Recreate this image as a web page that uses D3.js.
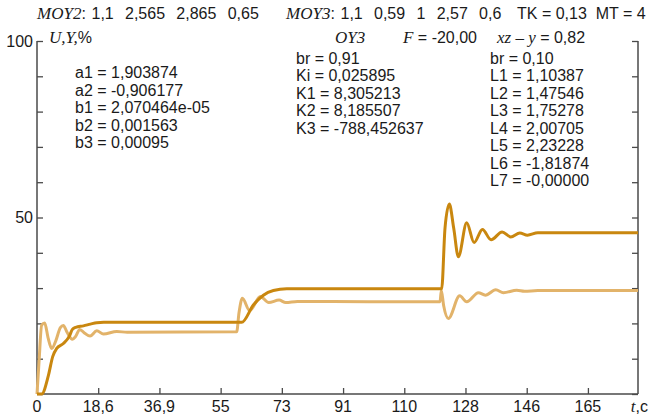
<!DOCTYPE html>
<html>
<head>
<meta charset="utf-8">
<script src="https://cdn.jsdelivr.net/npm/d3@7"></script>
<style>
  html, body { margin: 0; padding: 0; background: #fff; }
  svg { display: block; }
  text { font-family: "Liberation Sans", Arial, sans-serif; font-size: 16px; fill: #1a1a1a; white-space: pre; }
  .it { font-family: "Liberation Serif", "Times New Roman", serif; font-style: italic; font-size: 17px; }
</style>
</head>
<body>
<svg id="chart" width="651" height="415"></svg>
<script>
// ---- data ----
const xTickValues = [0, 18.33, 36.67, 55, 73.33, 91.67, 110, 128.33, 146.67, 165];
const xTickLabels = ["0", "18,6", "36,9", "55", "73", "91", "110", "128", "146", "165"];
const yTickValues = [0, 10, 20, 30, 40, 50, 60, 70, 80, 90, 100];
const yTickLabels = {50: "50", 100: "100"};

// output Y (dark)
const seriesY = [
  [0,0],[1.4,0],[3.4,5.2],[4.7,10.6],[5.9,12.9],[7.9,14.3],[9.7,16.4],[10.6,18.3],[11.6,18.9],
  [13.9,19.3],[16,19.8],[17.9,20.2],[20,20.3],[25,20.3],[61.3,20.3],[64.8,25.2],[67.8,28.0],
  [70.8,29.3],[74.8,29.8],[80,29.8],[121.2,29.8],[122.2,47],[123.5,53.8],[124.8,47],[126.2,38.9],
  [128.7,48.5],[130.9,42.9],[133.4,46.6],[136,43.7],[139.3,45.9],[141.9,44.5],[144.6,45.6],
  [146.9,45.0],[150,45.7],[180,45.7]
];
// control U (light)
const seriesU = [
  [0,0],[0.6,9],[1.4,19.5],[2.3,20.1],[3.3,16],[4.4,12.9],[5.6,15],[7.0,18.8],[7.9,19.4],
  [9.0,17.5],[10.6,15.5],[11.5,16.2],[12.8,18.3],[14.3,17.2],[15.9,16.4],[17.9,17.9],[19.9,17.0],
  [23.9,17.7],[27,17.5],[59.8,17.6],[60.5,23],[61.5,27.1],[63.7,23.6],[66.9,27.6],[69.4,25.9],
  [72.5,26.6],[74.5,25.9],[78,26.2],[120.7,26.1],[121.1,29.3],[121.8,25],[123.2,21.4],[126.6,27.8],
  [128.7,26.1],[132.2,28.7],[134.3,28.0],[137.4,29.5],[139.7,28.7],[143.7,29.4],[146,29.1],
  [150,29.3],[180,29.3]
];

const paramsA = ["a1 = 1,903874","a2 = -0,906177","b1 = 2,070464e-05","b2 = 0,001563","b3 = 0,00095"];
const paramsK = ["br = 0,91","Ki = 0,025895","K1 = 8,305213","K2 = 8,185507","K3 = -788,452637"];
const paramsL = ["br = 0,10","L1 = 1,10387","L2 = 1,47546","L3 = 1,75278","L4 = 2,00705","L5 = 2,23228","L6 = -1,81874","L7 = -0,00000"];

// ---- layout ----
const W = 651, H = 415;
const m = {left: 37, right: 13, top: 41, bottom: 21};
const svg = d3.select("#chart");
const x = d3.scaleLinear().domain([0, 180]).range([m.left, W - m.right]);
const y = d3.scaleLinear().domain([0, 100]).range([H - m.bottom, m.top]);
const axisColor = "#4a4a4a";

// frame lines
const g = svg.append("g");
g.append("line").attr("x1", x(0)).attr("x2", x(0)).attr("y1", y(100)).attr("y2", y(0))
  .attr("stroke", axisColor).attr("stroke-width", 1.5);
g.append("line").attr("x1", x(180)).attr("x2", x(180)).attr("y1", y(100)).attr("y2", y(0))
  .attr("stroke", axisColor).attr("stroke-width", 1.5);
g.append("line").attr("x1", x(0)).attr("x2", x(180)).attr("y1", y(0)).attr("y2", y(0))
  .attr("stroke", axisColor).attr("stroke-width", 1.5);

// left axis (ticks inward)
const yAxisL = d3.axisRight(y).tickValues(yTickValues).tickSize(6).tickFormat("");
svg.append("g").attr("transform", `translate(${x(0)},0)`).call(yAxisL)
  .call(s => s.select(".domain").remove())
  .call(s => s.selectAll("line").attr("stroke", axisColor).attr("stroke-width", 1.3));
svg.selectAll(".ylab").data(yTickValues.filter(v => yTickLabels[v])).enter().append("text")
  .attr("x", x(0) - 4).attr("y", d => y(d)).attr("dy", "0.35em").attr("text-anchor", "end")
  .text(d => yTickLabels[d]);

// right axis (ticks inward)
const yAxisR = d3.axisLeft(y).tickValues(yTickValues).tickSize(6).tickFormat("");
svg.append("g").attr("transform", `translate(${x(180)},0)`).call(yAxisR)
  .call(s => s.select(".domain").remove())
  .call(s => s.selectAll("line").attr("stroke", axisColor).attr("stroke-width", 1.3));

// bottom axis (ticks inward)
const xAxis = d3.axisTop(x).tickValues(xTickValues).tickSize(6).tickFormat("");
svg.append("g").attr("transform", `translate(0,${y(0)})`).call(xAxis)
  .call(s => s.select(".domain").remove())
  .call(s => s.selectAll("line").attr("stroke", axisColor).attr("stroke-width", 1.3));
svg.selectAll(".xlab").data(xTickValues).enter().append("text")
  .attr("x", d => x(d)).attr("y", H - 3).attr("text-anchor", "middle")
  .text((d, i) => xTickLabels[i]);

// axis titles
const tc = svg.append("text").attr("x", 648).attr("y", H - 3).attr("text-anchor", "end");
tc.append("tspan").attr("class", "it").text("t");
tc.append("tspan").text(",c");
const uy = svg.append("text").attr("x", 49).attr("y", 43);
uy.append("tspan").attr("class", "it").text("U,Y,");
uy.append("tspan").text("%");

// lines
const line = d3.line().x(d => x(d[0])).y(d => y(d[1])).curve(d3.curveMonotoneX);
svg.append("path").datum(seriesU).attr("d", line).attr("fill", "none")
  .attr("stroke", "#e2b36a").attr("stroke-width", 3).attr("stroke-linejoin", "round");
svg.append("path").datum(seriesY).attr("d", line).attr("fill", "none")
  .attr("stroke", "#c9870f").attr("stroke-width", 3).attr("stroke-linejoin", "round");

// header
function mixed(xp, yp, parts, ws) {
  const t = svg.append("text").attr("x", xp).attr("y", yp);
  if (ws) t.style("word-spacing", ws + "px");
  parts.forEach(p => t.append("tspan").attr("class", p[1] ? "it" : null).text(p[0]));
  return t;
}
mixed(37, 19, [["MOY2", true], [": 1,1  2,565  2,865  0,65", false]], 1.2);
mixed(286, 19, [["MOY3", true], [": 1,1  0,59  1  2,57  0,6", false]], 1.2);
mixed(517, 19, [["TK = 0,13  MT = 4", false]]);
mixed(335, 43, [["OY3", true]]);
mixed(403, 43, [["F", true], [" = -20,00", false]]);
mixed(497, 43, [["xz \u2013 y", true], [" = 0,82", false]]);

// parameter blocks
function block(xp, y0, arr) {
  svg.selectAll(null).data(arr).enter().append("text")
    .attr("x", xp).attr("y", (d, i) => y0 + i * 17.5).text(d => d);
}
block(75, 78, paramsA);
block(296, 63.5, paramsK);
block(490, 63.5, paramsL);
</script>
</body>
</html>
